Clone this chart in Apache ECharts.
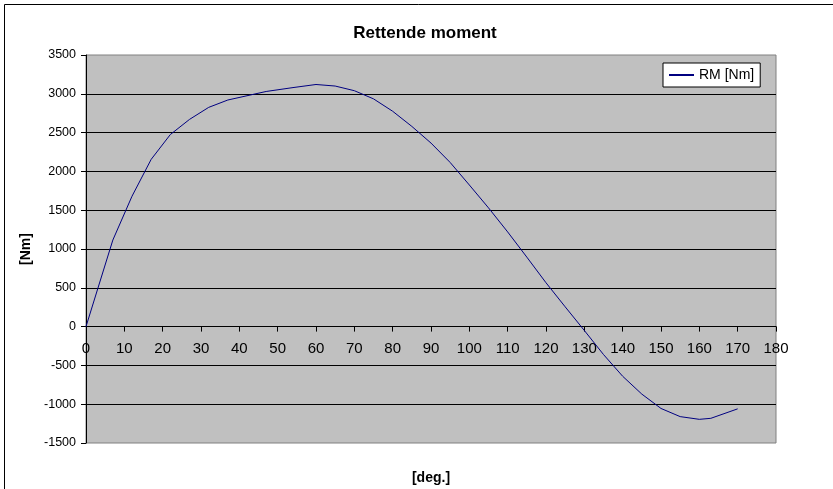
<!DOCTYPE html>
<html>
<head>
<meta charset="utf-8">
<script src="https://cdn.jsdelivr.net/npm/echarts@6/dist/echarts.min.js"></script>
<style>
  html, body { margin: 0; padding: 0; background: #fff; }
  #chart { width: 833px; height: 489px; }
</style>
</head>
<body>
<div id="chart"></div>
<script>
// heel angle [deg.] and righting moment [Nm]
const degrees = [0, 7, 12, 17, 22, 27, 32, 37, 42, 47, 54, 60, 65, 70, 75, 80, 85, 90, 95, 100,
  105, 110, 115, 120, 125, 130, 135, 140, 145, 150, 155, 160, 163, 170];
const moments = [0, 1115, 1680, 2155, 2475, 2670, 2825, 2920, 2975, 3030, 3080, 3120, 3100, 3040, 2935, 2775, 2580, 2365, 2115, 1825,
  1530, 1220, 895, 565, 255, -50, -360, -640, -870, -1055, -1160, -1195, -1182, -1060];
const seriesName = 'RM [Nm]';

const yMin = -1500, yMax = 3500;
const gridTop = 55, gridBottom = 46, chartH = 489;

const font = "'Liberation Sans', Arial, sans-serif";
const chart = echarts.init(document.getElementById('chart'));

// the x axis sits on the zero line, so shift it up from the grid bottom
const plotH = chartH - gridTop - gridBottom;
const zeroShift = plotH * (0 - yMin) / (yMax - yMin);

chart.setOption({
  animation: false,
  textStyle: { fontFamily: font },
  title: {
    text: 'Rettende moment',
    left: 420,
    textAlign: 'center',
    top: 20,
    textStyle: { fontSize: 17, fontWeight: 'bold', color: '#000', fontFamily: font }
  },
  legend: {
    data: [seriesName],
    left: 663,
    top: 63,
    width: 98,
    padding: [5, 6, 5, 5],
    itemWidth: 25,
    itemHeight: 2,
    itemGap: 4,
    backgroundColor: '#fff',
    borderColor: '#000',
    borderWidth: 1,
    borderRadius: 0,
    textStyle: { fontSize: 14, color: '#000', fontFamily: font }
  },
  grid: {
    left: 86,
    right: 57,
    top: gridTop,
    bottom: gridBottom,
    show: true,
    backgroundColor: '#c0c0c0',
    borderColor: '#808080',
    borderWidth: 1,
    containLabel: false,
    outerBoundsMode: 'none'
  },
  xAxis: {
    type: 'value',
    position: 'bottom',
    offset: -zeroShift,
    min: 0,
    max: 180,
    interval: 10,
    name: '[deg.]',
    nameLocation: 'middle',
    nameGap: 145,
    nameTextStyle: { fontSize: 14, fontWeight: 'bold', color: '#000', fontFamily: font },
    axisLine: { onZero: false, lineStyle: { color: '#000', width: 1 } },
    axisTick: { show: true, length: 5, lineStyle: { color: '#000' } },
    axisLabel: { fontSize: 15, color: '#000', margin: 15, fontFamily: font, formatter: v => String(v) },
    splitLine: { show: false }
  },
  yAxis: {
    type: 'value',
    min: yMin,
    max: yMax,
    interval: 500,
    name: '[Nm]',
    nameLocation: 'middle',
    nameGap: 52,
    nameRotate: 90,
    nameTextStyle: { fontSize: 14, fontWeight: 'bold', color: '#000', fontFamily: font },
    axisLine: { show: true, lineStyle: { color: '#000', width: 1 } },
    axisTick: { show: true, length: 5, lineStyle: { color: '#000' } },
    axisLabel: { fontSize: 12.5, color: '#000', margin: 10, fontFamily: font, formatter: v => String(v) },
    splitLine: { show: true, showMinLine: false, showMaxLine: false, lineStyle: { color: '#000', width: 1 } }
  },
  series: [
    {
      name: seriesName,
      type: 'line',
      data: degrees.map((d, i) => [d, moments[i]]),
      symbol: 'none',
      smooth: false,
      lineStyle: { color: '#000080', width: 1 },
      itemStyle: { color: '#000080' }
    }
  ],
  graphic: [
    // outer chart frame (only top and left edges are visible)
    { type: 'line', shape: { x1: 4.5, y1: 4.5, x2: 833, y2: 4.5 }, style: { stroke: '#000', lineWidth: 1 } },
    { type: 'line', shape: { x1: 4.5, y1: 4.5, x2: 4.5, y2: 489 }, style: { stroke: '#000', lineWidth: 1 } }
  ]
});
</script>
</body>
</html>
